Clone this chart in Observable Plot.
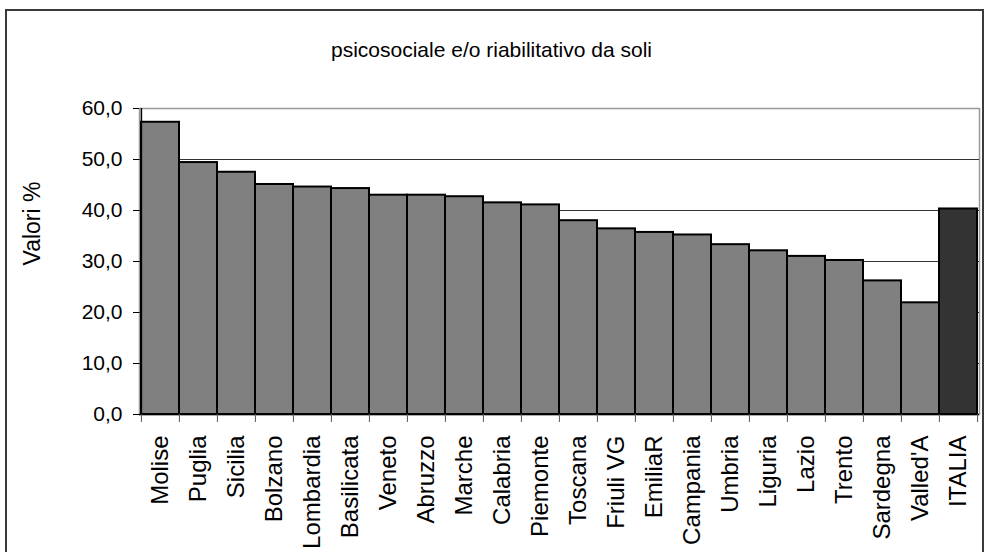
<!DOCTYPE html>
<html>
<head>
<meta charset="utf-8">
<script src="https://cdn.jsdelivr.net/npm/d3@7"></script>
<script src="https://cdn.jsdelivr.net/npm/@observablehq/plot@0.6"></script>
<style>
  html, body { margin: 0; padding: 0; background: #fff; overflow: hidden; }
  #wrap { position: relative; width: 986px; height: 552px; }
  #frame { position: absolute; left: 5px; top: 9px; width: 975px; height: 600px;
           border: 2px solid #3a3a3a; pointer-events: none; }
  svg { font-family: "Liberation Sans", Arial, sans-serif; }
</style>
</head>
<body>
<div id="wrap"><div id="frame"></div></div>
<script>
const title = "psicosociale e/o riabilitativo da soli";
const yLabel = "Valori %";
const regions = ["Molise","Puglia","Sicilia","Bolzano","Lombardia","Basilicata","Veneto","Abruzzo","Marche","Calabria","Piemonte","Toscana","Friuli VG","EmiliaR","Campania","Umbria","Liguria","Lazio","Trento","Sardegna","Valled'A","ITALIA"];
const values = [57.3,49.4,47.5,45.1,44.6,44.3,43.0,43.0,42.7,41.5,41.1,38.0,36.4,35.7,35.2,33.3,32.1,31.0,30.2,26.2,21.9,40.3];
const yTicks = [0,10,20,30,40,50,60];
const gridTicks = [10,20,30,40,50];

const data = regions.map((r, i) => ({region: r, value: values[i]}));

const W = 986, H = 552;
const mL = 139, mR = 7, mT = 108, mB = 138;
const half = (W - mL - mR) / regions.length / 2;

const chart = Plot.plot({
  width: W, height: H,
  marginLeft: mL, marginRight: mR, marginTop: mT, marginBottom: mB,
  style: {fontFamily: "'Liberation Sans', Arial, sans-serif", background: "transparent", color: "#000"},
  x: {domain: regions, padding: 0, axis: null},
  y: {domain: [0, 60], axis: null},
  marks: [
    Plot.frame({stroke: "#999", strokeWidth: 1.5}),
    Plot.gridY(gridTicks, {stroke: "#333", strokeOpacity: 1, strokeWidth: 1}),
    Plot.barY(data, {x: "region", y: "value",
      fill: d => d.region === "ITALIA" ? "#333333" : "#808080",
      stroke: "#000", strokeWidth: 2}),
    Plot.ruleY([0], {stroke: "#000", strokeWidth: 1.5}),
    Plot.ruleX([regions[0]], {x: d => d, dx: -half, y1: 0, y2: 60, stroke: "#000", strokeWidth: 1.5}),
    Plot.axisY({ticks: yTicks, tickSize: 6, tickPadding: 11, fontSize: 21,
      tickFormat: d => d.toFixed(1).replace(".", ","), stroke: "#000",
      label: null}),
    Plot.text([yLabel], {frameAnchor: "left", dx: -107, dy: 4, rotate: -90, fontSize: 23, fill: "#000"}),
    Plot.axisX({ticks: regions, tickSize: 8, tickFormat: () => "", dx: -half, stroke: "#555", label: null}),
    Plot.axisX({ticks: [regions[regions.length - 1]], tickSize: 8, tickFormat: () => "", dx: half, stroke: "#555", label: null}),
    Plot.axisX({ticks: regions, tickSize: 0, tickPadding: 21, tickRotate: -90, fontSize: 24, fill: "#000", label: null}),
    Plot.text([title], {frameAnchor: "top", dy: -66, fontSize: 21, fill: "#000", dx: -68})
  ]
});
document.getElementById("wrap").prepend(chart);
</script>
</body>
</html>
